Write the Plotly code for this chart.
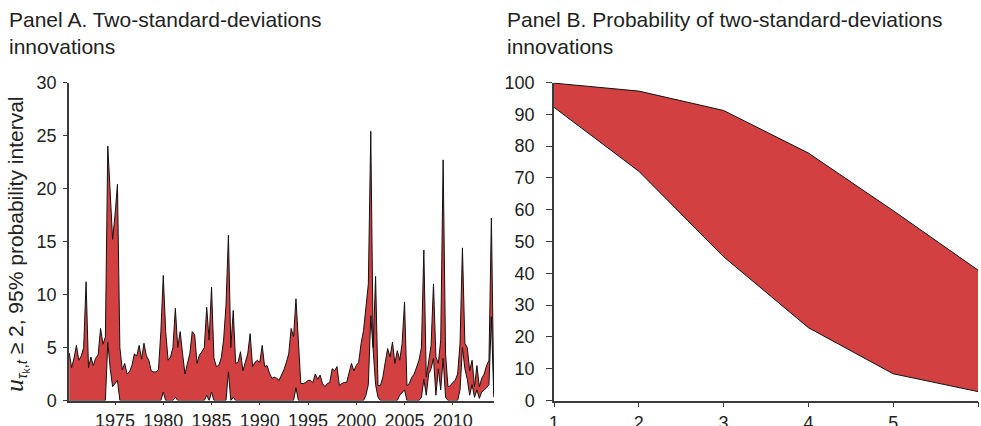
import plotly.graph_objects as go

# ---------------- Data ----------------
# Panel A: quarterly observations starting 1970 Q2
start_year = 1970.25
upper_a = [
    4.5, 3.1, 4.0, 5.2, 3.8, 4.2, 5.0, 11.2, 3.1, 4.1,
    3.3, 4.0, 4.3, 6.8, 5.3, 6.0, 24.0, 19.8, 15.2, 17.5,
    20.4, 5.0, 2.9, 3.5, 2.5, 2.7, 3.3, 4.4, 4.2, 5.2,
    3.9, 5.4, 4.2, 3.8, 2.8, 2.7, 2.7, 2.9, 6.5, 11.8,
    6.5, 3.8, 4.1, 5.0, 8.7, 5.0, 6.5, 4.4, 2.5, 3.5,
    4.4, 6.5, 6.2, 3.5, 4.3, 4.6, 5.0, 8.8, 5.7, 10.7,
    4.0, 3.2, 3.3, 4.0, 5.7, 9.0, 15.6, 5.0, 8.5, 3.5,
    3.6, 4.6, 2.8, 3.6, 4.4, 6.3, 3.2, 3.6, 3.8, 3.6,
    5.2, 3.2, 3.3, 2.6, 2.1, 2.2, 2.1, 1.9, 2.4, 2.9,
    3.6, 4.4, 6.8, 6.0, 9.6, 5.0, 1.6, 1.6, 1.7, 1.9,
    1.9, 1.7, 2.5, 2.0, 2.4, 1.6, 1.3, 1.6, 1.7, 3.0,
    2.8, 3.2, 1.4, 1.6, 1.7, 1.7, 2.5, 3.5, 2.8, 3.3,
    3.6, 5.4, 6.6, 9.1, 11.0, 25.4, 5.0, 11.7, 1.4, 1.4,
    2.2, 3.6, 4.9, 4.1, 5.5, 3.5, 4.7, 3.8, 5.4, 9.3,
    1.4, 1.6, 2.2, 2.5, 3.2, 3.8, 5.0, 14.2, 2.2, 3.5,
    5.2, 11.0, 4.1, 3.5, 5.7, 22.7, 4.4, 1.3, 1.4, 1.7,
    1.9, 2.5, 5.4, 14.4, 5.4, 5.0, 2.8, 3.8, 1.3, 3.3,
    1.3, 2.1, 2.5, 3.3, 3.8, 17.2, 0.6,
]
lower_a = [
    0, 0, 0, 0, 0, 0, 0, 0, 0, 0,
    0, 0, 0, 0, 0, 0, 5.5, 3.0, 1.3, 1.6,
    1.9, 0, 0, 0, 0, 0, 0, 0, 0, 0,
    0, 0, 0, 0, 0, 0, 0, 0, 0, 0.8,
    0, 0, 0, 0, 0.3, 0, 0, 0, 0, 0,
    0, 0, 0, 0, 0, 0, 0, 0.5, 0, 0.8,
    0, 0, 0, 0, 0, 0, 2.7, 0, 0.3, 0,
    0, 0, 0, 0, 0, 0, 0, 0, 0, 0,
    0, 0, 0, 0, 0, 0, 0, 0, 0, 0,
    0, 0, 0, 0, 1.2, 0, 0, 0, 0, 0,
    0, 0, 0, 0, 0, 0, 0, 0, 0, 0,
    0, 0, 0, 0, 0, 0, 0, 0, 0, 0,
    0, 0, 0, 0.5, 1.5, 8.0, 4.5, 1.5, 0.3, 0,
    0, 0, 0, 0, 0, 0, 0, 0.5, 0.8, 1.0,
    0, 0, 0, 0, 0, 0, 0.3, 2.0, 0.5, 2.5,
    3.0, 4.0, 0.5, 3.0, 1.0, 4.0, 0.3, 0, 0, 0,
    0, 0, 1.0, 5.0, 3.0, 2.0, 0.5, 1.5, 0.3, 1.0,
    0.2, 0.8, 1.0, 1.2, 1.5, 7.9, 0.3,
]
quarters = [start_year + 0.25 * k for k in range(len(upper_a))]
year_ticks = [1975, 1980, 1985, 1990, 1995, 2000, 2005, 2010]
ticks_a_y = [0, 5, 10, 15, 20, 25, 30]

# Panel B
horizon = [1, 2, 3, 4, 5, 6]
upper_b = [99.8, 97.3, 91.2, 77.8, 59.7, 41.0]
lower_b = [92.2, 72.1, 45.2, 22.9, 8.4, 2.8]
ticks_b_y = [0, 10, 20, 30, 40, 50, 60, 70, 80, 90, 100]

title_a = "Panel A. Two-standard-deviations<br>innovations"
title_b = "Panel B. Probability of two-standard-deviations<br>innovations"
ylabel_a = ("<span style='font-family:Liberation Serif;font-size:26px'><i>u</i></span>"
            "<sub><i>τ</i><sub>k</sub>,<i>t</i></sub> ≥ 2, 95% probability interval")

# ---------------- Style ----------------
W, H = 981, 426
FILL = "rgb(210,64,65)"
EDGE = "#111111"
AXC = "#3a3a3a"
FONT = "Liberation Sans, Arial, Helvetica, sans-serif"
TXT = "#222222"

fig = go.Figure()

fig.add_trace(go.Scatter(x=quarters, y=lower_a, mode="lines",
                         line=dict(color=EDGE, width=1), showlegend=False,
                         xaxis="x", yaxis="y", hoverinfo="skip"))
fig.add_trace(go.Scatter(x=quarters, y=upper_a, mode="lines", fill="tonexty",
                         fillcolor=FILL, line=dict(color=EDGE, width=1),
                         showlegend=False, xaxis="x", yaxis="y", hoverinfo="skip"))

fig.add_trace(go.Scatter(x=horizon, y=lower_b, mode="lines",
                         line=dict(color=EDGE, width=1), showlegend=False,
                         xaxis="x2", yaxis="y2", hoverinfo="skip"))
fig.add_trace(go.Scatter(x=horizon, y=upper_b, mode="lines", fill="tonexty",
                         fillcolor=FILL, line=dict(color=EDGE, width=1),
                         showlegend=False, xaxis="x2", yaxis="y2", hoverinfo="skip"))

y_dom = [(H - 400.5) / H, (H - 82.5) / H]

axis_common = dict(showgrid=False, zeroline=False, showline=True, linecolor=AXC,
                   linewidth=1.5, ticks="outside", tickcolor=AXC, tickwidth=1.2,
                   automargin=False,
                   tickfont=dict(family=FONT, size=18, color=TXT))

fig.update_layout(
    width=W, height=H,
    margin=dict(l=0, r=0, t=0, b=0, autoexpand=False),
    paper_bgcolor="white", plot_bgcolor="white",
    font=dict(family=FONT, color=TXT),
    xaxis=dict(domain=[69 / W, 494 / W], range=[1970.23, 2014.27],
               tickvals=year_ticks, ticklen=3, ticklabelstandoff=0,
               anchor="y", **axis_common),
    yaxis=dict(domain=y_dom, range=[0, 30], tickvals=ticks_a_y, ticklen=4,
               ticklabelstandoff=3, anchor="x", **axis_common),
    xaxis2=dict(domain=[554 / W, 978 / W], range=[1, 6], tickvals=horizon,
                ticklen=5, ticklabelstandoff=0, anchor="y2", **axis_common),
    yaxis2=dict(domain=y_dom, range=[0, 100], tickvals=ticks_b_y, ticklen=6,
                ticklabelstandoff=8, anchor="x2", **axis_common),
    annotations=[
        dict(text=title_a, xref="paper", yref="paper", x=7 / W, y=1 - 6 / H,
             xanchor="left", yanchor="top", align="left", showarrow=False,
             font=dict(family=FONT, size=21, color=TXT)),
        dict(text=title_b, xref="paper", yref="paper", x=505 / W, y=1 - 6 / H,
             xanchor="left", yanchor="top", align="left", showarrow=False,
             font=dict(family=FONT, size=21, color=TXT)),
        dict(text=ylabel_a, xref="paper", yref="paper", x=16 / W,
             y=(H - 244) / H, xanchor="center", yanchor="middle",
             textangle=-90, showarrow=False,
             font=dict(family=FONT, size=21, color=TXT)),
    ],
)

fig.write_html("out.html")
